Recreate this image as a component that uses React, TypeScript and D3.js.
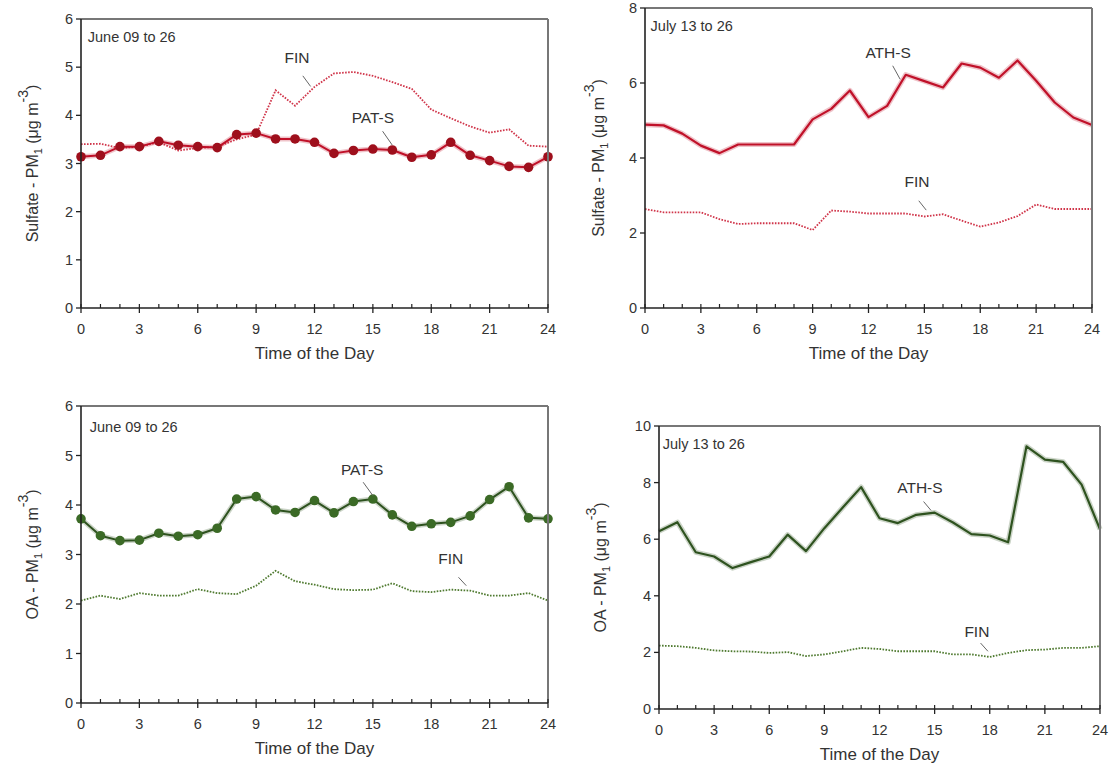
import React from 'react';
import * as d3 from 'd3';

const hours = [0, 1, 2, 3, 4, 5, 6, 7, 8, 9, 10, 11, 12, 13, 14, 15, 16, 17, 18, 19, 20, 21, 22, 23, 24];
const xTickLabels = [0, 3, 6, 9, 12, 15, 18, 21, 24];

// Sulfate, June 09 to 26
const sulfJunePATS = [3.14, 3.17, 3.35, 3.35, 3.46, 3.38, 3.35, 3.33, 3.6, 3.63, 3.51, 3.51, 3.44, 3.21, 3.27, 3.3, 3.28, 3.13, 3.18, 3.44, 3.17, 3.06, 2.94, 2.92, 3.14];
const sulfJuneFIN = [3.4, 3.41, 3.32, 3.35, 3.44, 3.27, 3.32, 3.35, 3.5, 3.6, 4.52, 4.2, 4.59, 4.87, 4.9, 4.82, 4.69, 4.55, 4.12, 3.94, 3.77, 3.64, 3.71, 3.37, 3.35];
const sulfJuneYTicks = [0, 1, 2, 3, 4, 5, 6];

// Sulfate, July 13 to 26
const sulfJulyATHS = [4.89, 4.87, 4.65, 4.33, 4.13, 4.36, 4.36, 4.36, 4.36, 5.03, 5.31, 5.8, 5.09, 5.39, 6.22, 6.05, 5.88, 6.52, 6.41, 6.14, 6.6, 6.06, 5.48, 5.08, 4.88];
const sulfJulyFIN = [2.64, 2.55, 2.55, 2.55, 2.37, 2.24, 2.26, 2.26, 2.26, 2.08, 2.6, 2.57, 2.52, 2.52, 2.52, 2.44, 2.5, 2.33, 2.17, 2.28, 2.45, 2.76, 2.64, 2.64, 2.64];
const sulfJulyYTicks = [0, 2, 4, 6, 8];

// OA, June 09 to 26
const oaJunePATS = [3.72, 3.38, 3.28, 3.29, 3.43, 3.37, 3.4, 3.53, 4.12, 4.17, 3.9, 3.85, 4.09, 3.84, 4.07, 4.12, 3.8, 3.57, 3.62, 3.65, 3.78, 4.11, 4.37, 3.74, 3.72];
const oaJuneFIN = [2.07, 2.17, 2.1, 2.22, 2.17, 2.17, 2.3, 2.22, 2.2, 2.37, 2.67, 2.46, 2.39, 2.3, 2.28, 2.29, 2.42, 2.26, 2.24, 2.29, 2.27, 2.17, 2.17, 2.22, 2.07];
const oaJuneYTicks = [0, 1, 2, 3, 4, 5, 6];

// OA, July 13 to 26
const oaJulyATHS = [6.28, 6.6, 5.54, 5.39, 4.98, 5.19, 5.39, 6.16, 5.58, 6.39, 7.12, 7.84, 6.74, 6.57, 6.86, 6.94, 6.59, 6.18, 6.13, 5.89, 9.28, 8.81, 8.73, 7.93, 6.35];
const oaJulyFIN = [2.24, 2.22, 2.16, 2.07, 2.04, 2.03, 1.98, 2.01, 1.87, 1.93, 2.04, 2.16, 2.12, 2.04, 2.04, 2.04, 1.93, 1.93, 1.84, 1.98, 2.08, 2.1, 2.16, 2.16, 2.22];
const oaJulyYTicks = [0, 2, 4, 6, 8, 10];

const FONT = '"Liberation Sans", Arial, Helvetica, sans-serif';

type Ann = { text: string; tx: number; ty: number; l1: [number, number]; l2: [number, number] };

type PanelProps = {
  box: { l: number; r: number; t: number; b: number };
  yTicks: number[];
  yMain: string;
  yLabelX: number;
  period: string;
  periodPos: [number, number];
  site: number[];
  fin: number[];
  siteColor: string;
  markerColor?: string;
  finColor: string;
  siteWidth: number;
  annSite: Ann;
  annFin: Ann;
};

function Panel(p: PanelProps) {
  const { box } = p;
  const yMax = p.yTicks[p.yTicks.length - 1];
  const x = d3.scaleLinear().domain([0, 24]).range([box.l, box.r]);
  const y = d3.scaleLinear().domain([0, yMax]).range([box.b, box.t]);
  const line = d3
    .line<number>()
    .x((_, i) => x(hours[i]))
    .y((d) => y(d));
  const textColor = '#333';
  const cy = (box.t + box.b) / 2;
  const ann = (a: Ann, key: string) => (
    <g key={key}>
      <text x={x(a.tx)} y={y(a.ty)} fontSize={15.5} fill={textColor} textAnchor="middle" fontFamily={FONT}>
        {a.text}
      </text>
      <line x1={x(a.l1[0])} y1={y(a.l1[1])} x2={x(a.l2[0])} y2={y(a.l2[1])} stroke="#666" strokeWidth={1} />
    </g>
  );
  return (
    <g>
      {/* FIN dotted */}
      <path d={line(p.fin) || ''} fill="none" stroke={p.finColor} strokeWidth={1.8} strokeDasharray="1.6,1.4" />
      {/* site line halo */}
      <path d={line(p.site) || ''} fill="none" stroke={p.siteColor} strokeOpacity={0.25} strokeWidth={p.siteWidth + 3} strokeLinejoin="round" />
      <path d={line(p.site) || ''} fill="none" stroke={p.siteColor} strokeWidth={p.siteWidth} strokeLinejoin="round" />
      {p.markerColor &&
        p.site.map((v, i) => (
          <circle key={i} cx={x(hours[i])} cy={y(v)} r={4.8} fill={p.markerColor} />
        ))}
      {/* frame */}
      <line x1={box.l} y1={box.t} x2={box.r} y2={box.t} stroke="#777" strokeWidth={2} />
      <line x1={box.r} y1={box.t} x2={box.r} y2={box.b} stroke="#777" strokeWidth={2} />
      <line x1={box.l} y1={box.t} x2={box.l} y2={box.b} stroke="#222" strokeWidth={1.6} />
      <line x1={box.l} y1={box.b} x2={box.r} y2={box.b} stroke="#222" strokeWidth={1.6} />
      {/* y ticks */}
      {p.yTicks.map((t) => (
        <g key={'y' + t}>
          <line x1={box.l - 5} x2={box.l} y1={y(t)} y2={y(t)} stroke="#222" strokeWidth={1.3} />
          <text x={box.l - 8} y={y(t) + 5} fontSize={14.5} fill={textColor} textAnchor="end" fontFamily={FONT}>
            {t}
          </text>
        </g>
      ))}
      {/* x minor ticks */}
      {hours.map((h) => (
        <line key={'m' + h} x1={x(h)} x2={x(h)} y1={box.b} y2={box.b - 4} stroke="#222" strokeWidth={1.2} />
      ))}
      {xTickLabels.map((t) => (
        <g key={'x' + t}>
          <line x1={x(t)} x2={x(t)} y1={box.b} y2={box.b + 5} stroke="#222" strokeWidth={1.3} />
          <text x={x(t)} y={box.b + 26} fontSize={14.5} fill={textColor} textAnchor="middle" fontFamily={FONT}>
            {t}
          </text>
        </g>
      ))}
      <text x={(box.l + box.r) / 2} y={box.b + 51} fontSize={17} fill={textColor} textAnchor="middle" fontFamily={FONT}>
        Time of the Day
      </text>
      <text
        transform={`translate(${p.yLabelX},${cy}) rotate(-90)`}
        fontSize={16}
        fill={textColor}
        textAnchor="middle"
        fontFamily={FONT}
      >
        {p.yMain} - PM
        <tspan dy={4} fontSize={11}>1</tspan>
        <tspan dy={-4}> (μg m</tspan>
        <tspan dy={-10} fontSize={14}>-3</tspan>
        <tspan dy={10}>)</tspan>
      </text>
      <text x={x(p.periodPos[0])} y={y(p.periodPos[1])} fontSize={14.5} fill={textColor} fontFamily={FONT}>
        {p.period}
      </text>
      {ann(p.annSite, 'as')}
      {ann(p.annFin, 'af')}
    </g>
  );
}

export default function App() {
  const red = '#c01129';
  const darkRed = '#9e0f1c';
  const green = '#2e521f';
  const greenMarker = '#3b6a26';
  return (
    <div style={{ position: 'absolute', left: 0, top: 0 }}>
      <svg width={1113} height={764} style={{ display: 'block', background: '#fff' }}>
        <Panel
          box={{ l: 81, r: 548, t: 19, b: 308 }}
          yTicks={sulfJuneYTicks}
          yMain="Sulfate"
          yLabelX={38}
          period="June 09 to 26"
          periodPos={[0.35, 5.52]}
          site={sulfJunePATS}
          fin={sulfJuneFIN}
          siteColor={red}
          markerColor={darkRed}
          finColor="#d0354a"
          siteWidth={2}
          annSite={{ text: 'PAT-S', tx: 15.0, ty: 3.84, l1: [15.5, 3.67], l2: [16.0, 3.38] }}
          annFin={{ text: 'FIN', tx: 11.1, ty: 5.08, l1: [11.4, 4.82], l2: [11.8, 4.6] }}
        />
        <Panel
          box={{ l: 645, r: 1092, t: 8, b: 308 }}
          yTicks={sulfJulyYTicks}
          yMain="Sulfate"
          yLabelX={604}
          period="July 13 to 26"
          periodPos={[0.3, 7.38]}
          site={sulfJulyATHS}
          fin={sulfJulyFIN}
          siteColor={red}
          finColor="#d0354a"
          siteWidth={2.2}
          annSite={{ text: 'ATH-S', tx: 13.05, ty: 6.68, l1: [13.3, 6.46], l2: [13.7, 6.1] }}
          annFin={{ text: 'FIN', tx: 14.6, ty: 3.22, l1: [14.7, 2.86], l2: [15.1, 2.61] }}
        />
        <Panel
          box={{ l: 81, r: 548, t: 406, b: 703 }}
          yTicks={oaJuneYTicks}
          yMain="OA"
          yLabelX={38}
          period="June 09 to 26"
          periodPos={[0.45, 5.48]}
          site={oaJunePATS}
          fin={oaJuneFIN}
          siteColor={green}
          markerColor={greenMarker}
          finColor="#4f7a30"
          siteWidth={2}
          annSite={{ text: 'PAT-S', tx: 14.45, ty: 4.6, l1: [14.5, 4.46], l2: [15.0, 4.19] }}
          annFin={{ text: 'FIN', tx: 19.0, ty: 2.8, l1: [19.4, 2.54], l2: [19.8, 2.37] }}
        />
        <Panel
          box={{ l: 659, r: 1100, t: 426, b: 709 }}
          yTicks={oaJulyYTicks}
          yMain="OA"
          yLabelX={606}
          period="July 13 to 26"
          periodPos={[0.2, 9.2]}
          site={oaJulyATHS}
          fin={oaJulyFIN}
          siteColor={green}
          finColor="#4f7a30"
          siteWidth={2.2}
          annSite={{ text: 'ATH-S', tx: 14.2, ty: 7.65, l1: [14.4, 7.33], l2: [14.8, 7.02] }}
          annFin={{ text: 'FIN', tx: 17.3, ty: 2.55, l1: [17.5, 2.33], l2: [17.9, 2.04] }}
        />
      </svg>
    </div>
  );
}
